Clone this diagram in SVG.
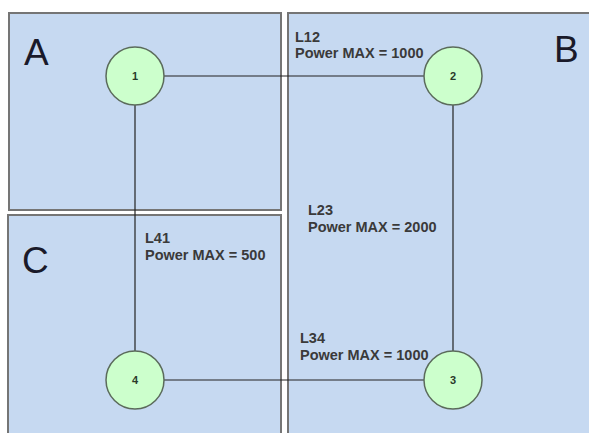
<svg xmlns="http://www.w3.org/2000/svg" width="589" height="433" viewBox="0 0 589 433">
<style>
.zone{fill:#c6d9f1;stroke:#757575;stroke-width:2}
.zl{font-family:"Liberation Sans",Arial,sans-serif;font-size:37px;fill:#1a1a2a}
.node{fill:#ccffcc;stroke:#5b6b5b;stroke-width:1.5}
.nl{font-family:"Liberation Sans",Arial,sans-serif;font-size:11px;font-weight:bold;fill:#2a3a2a;text-anchor:middle}
.edge{stroke:#222;stroke-width:1.2;fill:none}
.el{font-family:"Liberation Sans",Arial,sans-serif;font-size:14.5px;font-weight:bold;fill:#3a3a3a}
</style>
<rect width="589" height="433" fill="#fff"/>
<g id="zoneA"><rect class="zone" x="9" y="13" width="272" height="197"/><text class="zl" x="24" y="65">A</text></g>
<g id="zoneB"><rect class="zone" x="288" y="13" width="310" height="430"/><text class="zl" x="554" y="62">B</text></g>
<g id="zoneC"><rect class="zone" x="8" y="215" width="273" height="230"/><text class="zl" x="22" y="273">C</text></g>
<g id="connectors">
<line class="edge" x1="164" y1="76" x2="424" y2="76"/>
<line class="edge" x1="453" y1="105" x2="453" y2="351"/>
<line class="edge" x1="164" y1="380" x2="424" y2="380"/>
<line class="edge" x1="135" y1="105" x2="135" y2="351"/>
<text class="el" x="295" y="42">L12</text><text class="el" x="295" y="58">Power MAX = 1000</text>
<text class="el" x="308" y="215">L23</text><text class="el" x="308" y="232">Power MAX = 2000</text>
<text class="el" x="300" y="343">L34</text><text class="el" x="300" y="360">Power MAX = 1000</text>
<text class="el" x="145" y="243">L41</text><text class="el" x="145" y="260">Power MAX = 500</text>
</g>
<g id="node1"><circle class="node" cx="135" cy="76" r="29"/><text class="nl" x="135" y="80">1</text></g>
<g id="node2"><circle class="node" cx="453" cy="76" r="29"/><text class="nl" x="453" y="80">2</text></g>
<g id="node3"><circle class="node" cx="453" cy="380" r="29"/><text class="nl" x="453" y="384">3</text></g>
<g id="node4"><circle class="node" cx="135" cy="380" r="29"/><text class="nl" x="135" y="384">4</text></g>
</svg>
